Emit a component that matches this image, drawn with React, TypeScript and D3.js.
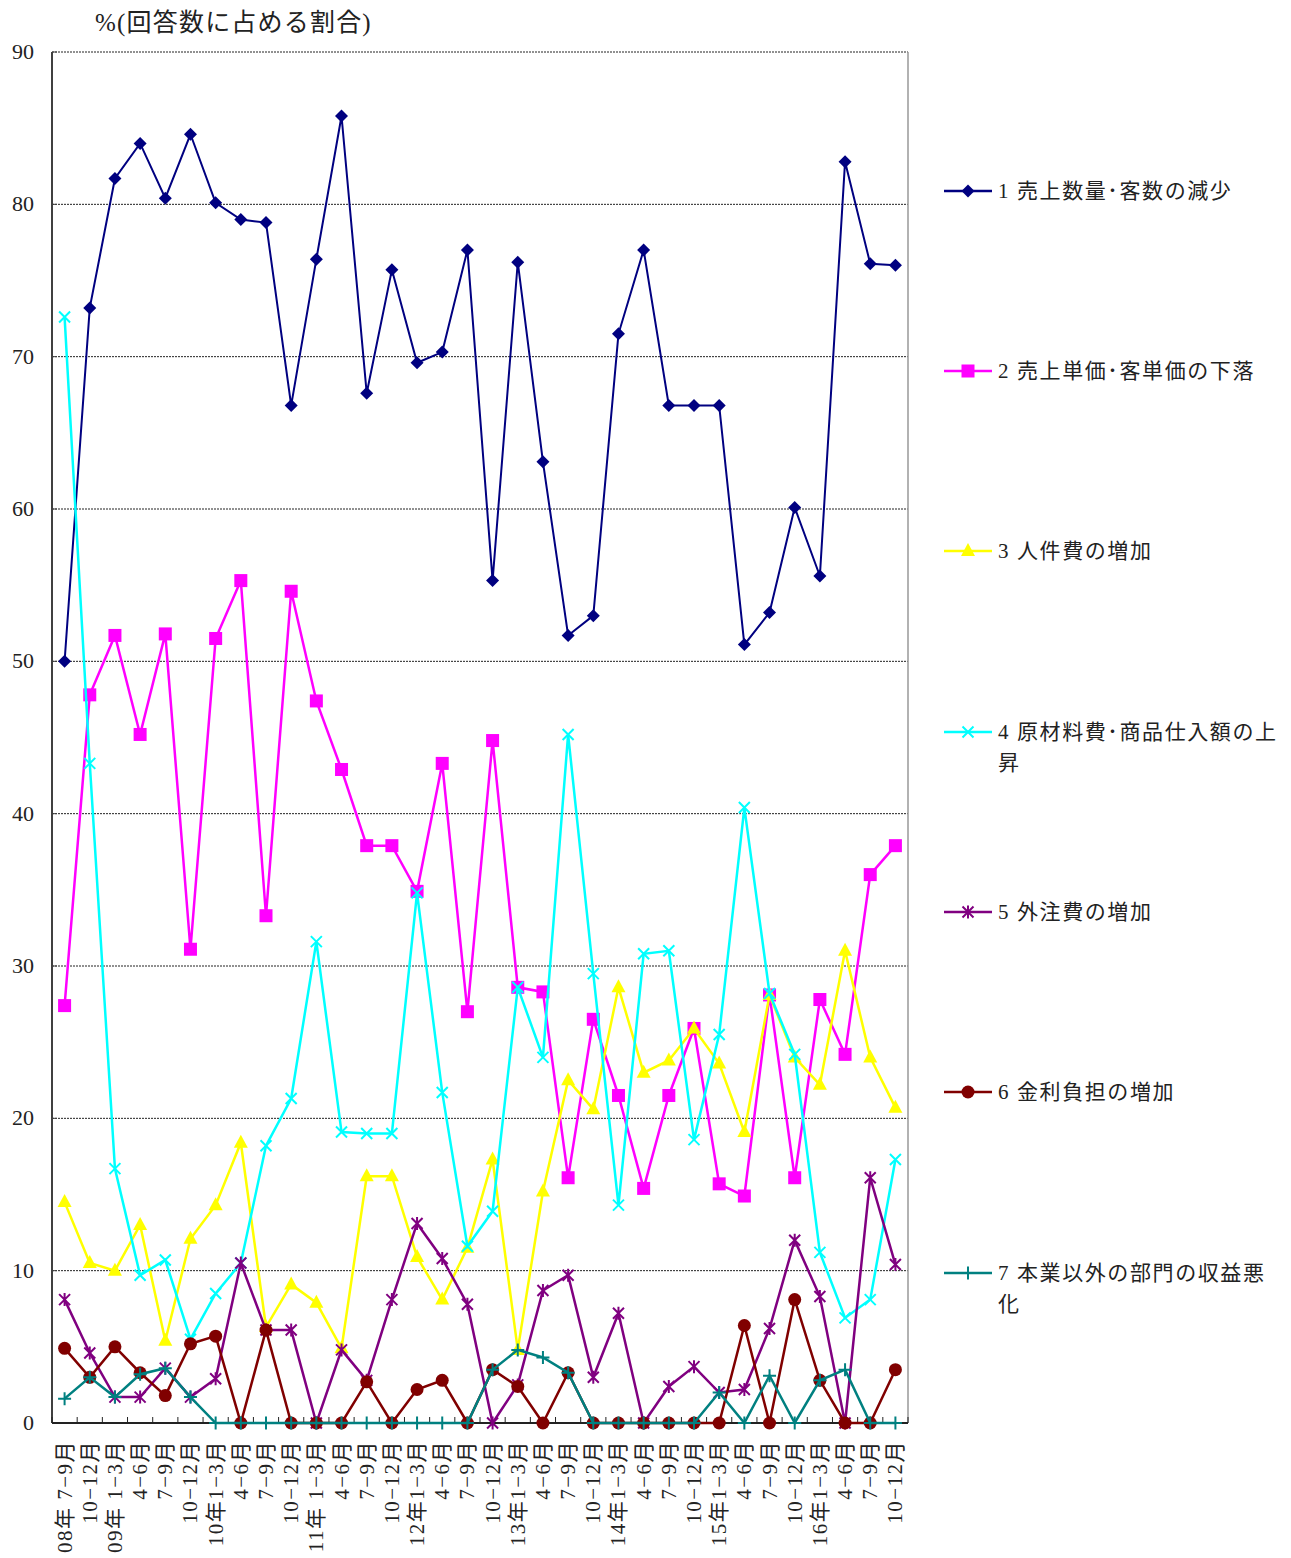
import React from "react";
import * as d3 from "d3";

const categories: string[] = [
  "08年 7−9月", "10−12月", "09年 1−3月", "4−6月", "7−9月", "10−12月",
  "10年1−3月", "4−6月", "7−9月", "10−12月",
  "11年 1−3月", "4−6月", "7−9月", "10−12月",
  "12年1−3月", "4−6月", "7−9月", "10−12月",
  "13年1−3月", "4−6月", "7−9月", "10−12月",
  "14年1−3月", "4−6月", "7−9月", "10−12月",
  "15年1−3月", "4−6月", "7−9月", "10−12月",
  "16年1−3月", "4−6月", "7−9月", "10−12月",
];

const s1: number[] = [50.0, 73.2, 81.7, 84.0, 80.4, 84.6, 80.1, 79.0, 78.8, 66.8, 76.4, 85.8, 67.6, 75.7, 69.6, 70.3, 77.0, 55.3, 76.2, 63.1, 51.7, 53.0, 71.5, 77.0, 66.8, 66.8, 66.8, 51.1, 53.2, 60.1, 55.6, 82.8, 76.1, 76.0];
const s2: number[] = [27.4, 47.8, 51.7, 45.2, 51.8, 31.1, 51.5, 55.3, 33.3, 54.6, 47.4, 42.9, 37.9, 37.9, 34.9, 43.3, 27.0, 44.8, 28.6, 28.3, 16.1, 26.5, 21.5, 15.4, 21.5, 25.9, 15.7, 14.9, 28.1, 16.1, 27.8, 24.2, 36.0, 37.9];
const s3: number[] = [14.5, 10.5, 10.0, 13.0, 5.4, 12.1, 14.3, 18.4, 6.3, 9.1, 7.9, 4.9, 16.2, 16.2, 10.9, 8.1, 11.5, 17.3, 4.8, 15.2, 22.5, 20.6, 28.6, 23.0, 23.8, 25.9, 23.6, 19.1, 28.1, 24.0, 22.2, 31.0, 24.0, 20.7];
const s4: number[] = [72.6, 43.3, 16.7, 9.7, 10.7, 5.5, 8.5, 10.5, 18.2, 21.3, 31.6, 19.1, 19.0, 19.0, 34.8, 21.7, 11.6, 13.9, 28.6, 24.0, 45.2, 29.5, 14.3, 30.8, 31.0, 18.6, 25.5, 40.4, 28.2, 24.2, 11.2, 6.9, 8.1, 17.3];
const s5: number[] = [8.1, 4.6, 1.7, 1.7, 3.6, 1.7, 2.9, 10.5, 6.1, 6.1, 0, 4.8, 2.8, 8.1, 13.1, 10.8, 7.8, 0, 2.5, 8.7, 9.7, 3.0, 7.2, 0, 2.4, 3.7, 2.0, 2.2, 6.2, 12.0, 8.3, 0, 16.1, 10.4];
const s6: number[] = [4.9, 3.0, 5.0, 3.3, 1.8, 5.2, 5.7, 0, 6.1, 0, 0, 0, 2.7, 0, 2.2, 2.8, 0, 3.5, 2.4, 0, 3.3, 0, 0, 0, 0, 0, 0, 6.4, 0, 8.1, 2.8, 0, 0, 3.5];
const s7: number[] = [1.6, 3.0, 1.7, 3.2, 3.6, 1.7, 0, 0, 0, 0, 0, 0, 0, 0, 0, 0, 0, 3.5, 4.8, 4.3, 3.3, 0, 0, 0, 0, 0, 2.0, 0, 3.1, 0, 2.8, 3.5, 0, 0];

const seriesNames: string[][] = [
  ["1 売上数量･客数の減少"],
  ["2 売上単価･客単価の下落"],
  ["3 人件費の増加"],
  ["4 原材料費･商品仕入額の上", "昇"],
  ["5 外注費の増加"],
  ["6 金利負担の増加"],
  ["7 本業以外の部門の収益悪", "化"],
];
const seriesColors: string[] = ["#000080", "#FF00FF", "#FFFF00", "#00FFFF", "#800080", "#800000", "#008080"];
const seriesMarkers: string[] = ["diamond", "square", "triangle", "x", "asterisk", "circle", "plus"];
const yTicks: number[] = [0, 10, 20, 30, 40, 50, 60, 70, 80, 90];
const titleText = "%(回答数に占める割合)";

const W = 1291;
const H = 1558;
const M = { left: 52, right: 908, top: 52, bottom: 1423 };
const FONT = "'Liberation Serif', 'DejaVu Serif', 'Noto Sans CJK JP', serif";

function Marker({ type, x, y, color }: { type: string; x: number; y: number; color: string }) {
  switch (type) {
    case "diamond":
      return <path d={`M${x},${y - 6.5}L${x + 6.5},${y}L${x},${y + 6.5}L${x - 6.5},${y}Z`} fill={color} />;
    case "square":
      return <rect x={x - 6.5} y={y - 6.5} width={13} height={13} fill={color} />;
    case "triangle":
      return <path d={`M${x},${y - 8}L${x + 7},${y + 5}L${x - 7},${y + 5}Z`} fill={color} />;
    case "circle":
      return <circle cx={x} cy={y} r={6.5} fill={color} />;
    case "x":
      return <path d={`M${x - 5.5},${y - 5.5}L${x + 5.5},${y + 5.5}M${x - 5.5},${y + 5.5}L${x + 5.5},${y - 5.5}`} stroke={color} strokeWidth={2} fill="none" />;
    case "asterisk":
      return <path d={`M${x - 5.5},${y - 5.5}L${x + 5.5},${y + 5.5}M${x - 5.5},${y + 5.5}L${x + 5.5},${y - 5.5}M${x},${y - 6.5}L${x},${y + 6.5}`} stroke={color} strokeWidth={2} fill="none" />;
    case "plus":
      return <path d={`M${x - 6.5},${y}L${x + 6.5},${y}M${x},${y - 6.5}L${x},${y + 6.5}`} stroke={color} strokeWidth={2} fill="none" />;
    default:
      return null;
  }
}

export default function App() {
  const allSeries = [s1, s2, s3, s4, s5, s6, s7];
  const x = d3.scaleBand<number>().domain(d3.range(categories.length)).range([M.left, M.right]).padding(0);
  const y = d3.scaleLinear().domain([0, 90]).range([M.bottom, M.top]);
  const cx = (i: number) => (x(i) as number) + x.bandwidth() / 2;
  const line = d3.line<number>().x((_, i) => cx(i)).y((d) => y(d));
  const legendY = [191, 371, 551, 732, 912, 1092, 1273];

  return (
    <svg width={W} height={H} style={{ position: "absolute", left: 0, top: 0, background: "#fff" }} fontFamily={FONT}>
      <rect x={0} y={0} width={W} height={H} fill="#fff" />
      <text x={95} y={31} fontSize={25} letterSpacing={1.2} fill="#222">{titleText}</text>
      {/* gridlines */}
      {yTicks.filter((t) => t > 0).map((t) => (
        <line key={t} x1={M.left} x2={M.right} y1={y(t)} y2={y(t)} stroke="#222" strokeWidth={1} strokeDasharray="2,1" />
      ))}
      <line x1={M.right} x2={M.right} y1={M.top} y2={M.bottom} stroke="#999" strokeWidth={1.5} />
      {/* y axis */}
      <line x1={M.left} x2={M.left} y1={M.top} y2={M.bottom} stroke="#404040" strokeWidth={2} />
      {yTicks.map((t) => (
        <g key={t}>
          <line x1={M.left} x2={M.left + 5} y1={y(t)} y2={y(t)} stroke="#404040" strokeWidth={1} />
          <text x={34} y={y(t) + 7} textAnchor="end" fontSize={22} fill="#222">{t}</text>
        </g>
      ))}
      {/* x axis */}
      <line x1={M.left} x2={M.right} y1={M.bottom} y2={M.bottom} stroke="#222" strokeWidth={2} />
      {d3.range(categories.length + 1).map((i) => {
        const xx = M.left + i * x.bandwidth();
        return <line key={i} x1={xx} x2={xx} y1={M.bottom} y2={M.bottom - 6} stroke="#222" strokeWidth={1} />;
      })}
      {categories.map((c, i) => (
        <text key={i} transform={`translate(${cx(i) + 7},${1440}) rotate(-90)`} textAnchor="end" fontSize={21} letterSpacing={1.5} fill="#222">{c}</text>
      ))}
      {/* series */}
      {allSeries.map((s, si) => (
        <g key={si}>
          <path d={line(s) || ""} fill="none" stroke={seriesColors[si]} strokeWidth={si === 0 ? 2 : 2.5} />
          {s.map((v, i) => (
            <Marker key={i} type={seriesMarkers[si]} x={cx(i)} y={y(v)} color={seriesColors[si]} />
          ))}
        </g>
      ))}
      {/* legend */}
      {seriesNames.map((lines, si) => (
        <g key={si}>
          <line x1={944} x2={992} y1={legendY[si]} y2={legendY[si]} stroke={seriesColors[si]} strokeWidth={2.5} />
          <Marker type={seriesMarkers[si]} x={968} y={legendY[si]} color={seriesColors[si]} />
          {lines.map((l, li) => (
            <text key={li} x={998} y={legendY[si] + 7 + li * 31} fontSize={21} letterSpacing={1.6} fill="#222">{l}</text>
          ))}
        </g>
      ))}
    </svg>
  );
}
